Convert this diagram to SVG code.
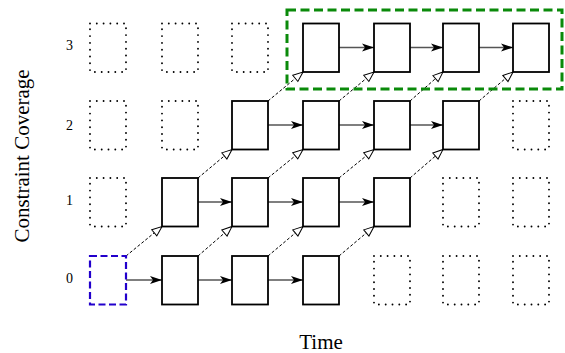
<svg xmlns="http://www.w3.org/2000/svg" width="565" height="353" viewBox="0 0 565 353">
<defs>
<style>
.box{fill:#fff;stroke:#000;stroke-width:1.8}
.dot{fill:none;stroke:#000;stroke-width:1.9;stroke-dasharray:0 6.8;stroke-linecap:round}
.start{fill:none;stroke:#2200cc;stroke-width:2.2;stroke-dasharray:7 3.5}
.goal{fill:none;stroke:#0a8a0a;stroke-width:3;stroke-dasharray:9 4.5}
.h{stroke:#555;stroke-width:1.3;fill:none;marker-end:url(#stealth)}
.d{stroke:#000;stroke-width:1;stroke-dasharray:3 2;fill:none;marker-end:url(#open)}
.lab{font-family:"Liberation Serif",serif;font-size:14px;fill:#000}
.axis{font-family:"Liberation Serif",serif;font-size:21px;fill:#000}
</style>
<marker id="stealth" markerUnits="userSpaceOnUse" markerWidth="14" markerHeight="10" refX="12" refY="4" orient="auto" overflow="visible">
<path d="M0,0 L12,4 L0,8 L3,4 Z" fill="#000"/>
</marker>
<marker id="open" markerUnits="userSpaceOnUse" markerWidth="12" markerHeight="10" refX="10" refY="4" orient="auto" overflow="visible">
<path d="M0,0 L10,4 L0,8 Z" fill="#fff" stroke="#000" stroke-width="1"/>
</marker>
</defs>
<g id="labels">
<text class="lab" x="66" y="50">3</text>
<text class="lab" x="66" y="130">2</text>
<text class="lab" x="66" y="205">1</text>
<text class="lab" x="66" y="283">0</text>
<text class="axis" x="29" y="156" text-anchor="middle" transform="rotate(-90 29 156)">Constraint Coverage</text>
<text class="axis" x="321" y="349" text-anchor="middle">Time</text>
</g>
<g id="connectors">
<line class="h" x1="126" y1="280" x2="162" y2="280"/>
<line class="h" x1="198" y1="280" x2="232" y2="280"/>
<line class="h" x1="268" y1="280" x2="303" y2="280"/>
<line class="h" x1="198" y1="202" x2="232" y2="202"/>
<line class="h" x1="268" y1="202" x2="303" y2="202"/>
<line class="h" x1="339" y1="202" x2="374" y2="202"/>
<line class="h" x1="268" y1="125" x2="303" y2="125"/>
<line class="h" x1="339" y1="125" x2="374" y2="125"/>
<line class="h" x1="410" y1="125" x2="443" y2="125"/>
<line class="h" x1="339" y1="47.5" x2="374" y2="47.5"/>
<line class="h" x1="410" y1="47.5" x2="443" y2="47.5"/>
<line class="h" x1="479" y1="47.5" x2="513" y2="47.5"/>
<line class="d" x1="126" y1="256" x2="162" y2="226.5"/>
<line class="d" x1="198" y1="256" x2="232" y2="226.5"/>
<line class="d" x1="268" y1="256" x2="303" y2="226.5"/>
<line class="d" x1="339" y1="256" x2="374" y2="226.5"/>
<line class="d" x1="198" y1="178" x2="232" y2="149.5"/>
<line class="d" x1="268" y1="178" x2="303" y2="149.5"/>
<line class="d" x1="339" y1="178" x2="374" y2="149.5"/>
<line class="d" x1="410" y1="178" x2="443" y2="149.5"/>
<line class="d" x1="268" y1="101" x2="303" y2="72"/>
<line class="d" x1="339" y1="101" x2="374" y2="72"/>
<line class="d" x1="410" y1="101" x2="443" y2="72"/>
<line class="d" x1="479" y1="101" x2="513" y2="72"/>
</g>
<g id="goal-region"><rect class="goal" x="287" y="10" width="275" height="79"/></g>
<g id="row0">
<g id="n-0-0"><rect class="start" x="90" y="256" width="36" height="48.5"/></g>
<g id="n-0-1"><rect class="box" x="162" y="256" width="36" height="48.5"/></g>
<g id="n-0-2"><rect class="box" x="232" y="256" width="36" height="48.5"/></g>
<g id="n-0-3"><rect class="box" x="303" y="256" width="36" height="48.5"/></g>
<g id="n-0-4"><rect class="dot" x="374" y="256" width="36" height="48.5"/></g>
<g id="n-0-5"><rect class="dot" x="443" y="256" width="36" height="48.5"/></g>
<g id="n-0-6"><rect class="dot" x="513" y="256" width="36" height="48.5"/></g>
</g>
<g id="row1">
<g id="n-1-0"><rect class="dot" x="90" y="178" width="36" height="48.5"/></g>
<g id="n-1-1"><rect class="box" x="162" y="178" width="36" height="48.5"/></g>
<g id="n-1-2"><rect class="box" x="232" y="178" width="36" height="48.5"/></g>
<g id="n-1-3"><rect class="box" x="303" y="178" width="36" height="48.5"/></g>
<g id="n-1-4"><rect class="box" x="374" y="178" width="36" height="48.5"/></g>
<g id="n-1-5"><rect class="dot" x="443" y="178" width="36" height="48.5"/></g>
<g id="n-1-6"><rect class="dot" x="513" y="178" width="36" height="48.5"/></g>
</g>
<g id="row2">
<g id="n-2-0"><rect class="dot" x="90" y="101" width="36" height="48.5"/></g>
<g id="n-2-1"><rect class="dot" x="162" y="101" width="36" height="48.5"/></g>
<g id="n-2-2"><rect class="box" x="232" y="101" width="36" height="48.5"/></g>
<g id="n-2-3"><rect class="box" x="303" y="101" width="36" height="48.5"/></g>
<g id="n-2-4"><rect class="box" x="374" y="101" width="36" height="48.5"/></g>
<g id="n-2-5"><rect class="box" x="443" y="101" width="36" height="48.5"/></g>
<g id="n-2-6"><rect class="dot" x="513" y="101" width="36" height="48.5"/></g>
</g>
<g id="row3">
<g id="n-3-0"><rect class="dot" x="90" y="23.5" width="36" height="48.5"/></g>
<g id="n-3-1"><rect class="dot" x="162" y="23.5" width="36" height="48.5"/></g>
<g id="n-3-2"><rect class="dot" x="232" y="23.5" width="36" height="48.5"/></g>
<g id="n-3-3"><rect class="box" x="303" y="23.5" width="36" height="48.5"/></g>
<g id="n-3-4"><rect class="box" x="374" y="23.5" width="36" height="48.5"/></g>
<g id="n-3-5"><rect class="box" x="443" y="23.5" width="36" height="48.5"/></g>
<g id="n-3-6"><rect class="box" x="513" y="23.5" width="36" height="48.5"/></g>
</g>
</svg>
